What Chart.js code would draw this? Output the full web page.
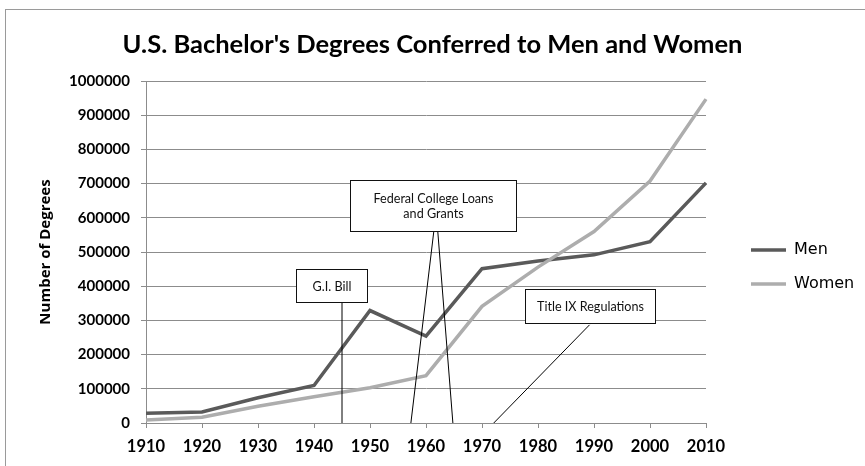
<!DOCTYPE html>
<html><head><meta charset="utf-8">
<script src="https://cdn.jsdelivr.net/npm/chart.js@4"></script>
<style>html,body{margin:0;padding:0;background:#fff;overflow:hidden}canvas{display:block}</style>
</head><body>
<canvas id="c" width="865" height="466"></canvas>
<script>
// ---- data ----
const years = ['1910','1920','1930','1940','1950','1960','1970','1980','1990','2000','2010'];
const menDegrees   = [28762, 31980, 73615, 109546, 328841, 254063, 451097, 473611, 491696, 530367, 702000];
const womenDegrees = [8437, 16642, 48869, 76954, 103217, 138377, 341276, 455806, 559648, 707508, 947000];
const yTickValues  = [0,100000,200000,300000,400000,500000,600000,700000,800000,900000,1000000];
const seriesNames  = ['Men','Women'];
const calloutTexts = [['G.I. Bill'], ['Federal College Loans','and Grants'], ['Title IX Regulations']];
// callout anchors in data units (year, value)
const calloutBoxes = [
  {x1:1936.7, x2:1949.5, yTop:450000, yBottom:354000},
  {x1:1946.5, x2:1976.0, yTop:710000, yBottom:561000},
  {x1:1977.6, x2:2000.9, yTop:392000, yBottom:292000}
];
const calloutPointers = [
  [{from:[1945.0,354000], to:[1945.0,0]}],
  [{from:[1961.4,561000], to:[1957.3,0]}, {from:[1962.1,561000], to:[1964.8,0]}],
  [{from:[1989.2,287000], to:[1972.1,0]}]
];

const yearToIndex = y => (y - Number(years[0])) / (Number(years[1]) - Number(years[0]));

const frameAndCallouts = {
  id: 'frameAndCallouts',
  beforeDraw(chart) {
    const ctx = chart.ctx;
    ctx.save();
    ctx.fillStyle = '#fff';
    ctx.fillRect(0, 0, chart.width, chart.height);
    ctx.strokeStyle = '#9a9a9a';
    ctx.lineWidth = 1;
    ctx.strokeRect(5.5, 9.5, chart.width + 20, chart.height + 20);
    ctx.restore();
  },
  beforeLayout(chart) {
    const lg = chart.legend;
    if (lg && !lg._fixedFit) {
      const orig = lg.fit;
      lg.fit = function() { orig.call(this); this.width = 159; };
      lg._fixedFit = true;
    }
  },
  afterLayout(chart) {
    const lg = chart.legend;
    lg.left = 733; lg.right = 865; lg.top = 224; lg.bottom = 330;
    lg.width = lg.right - lg.left; lg.height = lg.bottom - lg.top;
  },
  afterDatasetsDraw(chart) {
    const ctx = chart.ctx, xs = chart.scales.x, ys = chart.scales.y;
    const px = yr => xs.getPixelForValue(yearToIndex(yr));
    const py = v => ys.getPixelForValue(v);
    ctx.save();
    ctx.strokeStyle = '#000';
    ctx.lineWidth = 1;
    calloutPointers.forEach(list => list.forEach(p => {
      ctx.beginPath();
      ctx.moveTo(px(p.from[0]), py(p.from[1]));
      ctx.lineTo(px(p.to[0]), py(p.to[1]));
      ctx.stroke();
    }));
    calloutBoxes.forEach((b, i) => {
      const l = Math.round(px(b.x1)) + 0.5, r = Math.round(px(b.x2)) + 0.5;
      const t = Math.round(py(b.yTop)) + 0.5, btm = Math.round(py(b.yBottom)) + 0.5;
      ctx.fillStyle = '#fff';
      ctx.fillRect(l, t, r - l, btm - t);
      ctx.strokeStyle = '#111';
      ctx.strokeRect(l, t, r - l, btm - t);
      const lines = calloutTexts[i];
      ctx.fillStyle = '#111';
      ctx.font = '12.6px Lato';
      ctx.textAlign = 'center';
      ctx.textBaseline = 'middle';
      const lh = 15.5;
      const cy = (t + btm) / 2 + 0.5 - (lines.length - 1) * lh / 2;
      lines.forEach((s, k) => ctx.fillText(s, (l + r) / 2, cy + k * lh));
    });
    ctx.restore();
  }
};

new Chart(document.getElementById('c'), {
  type: 'line',
  data: {
    labels: years,
    datasets: [
      {label: seriesNames[0], data: menDegrees, borderColor: '#5a5a5a', backgroundColor: '#5a5a5a', borderWidth: 3.5, pointRadius: 0, tension: 0, order: 1},
      {label: seriesNames[1], data: womenDegrees, borderColor: '#adadad', backgroundColor: '#adadad', borderWidth: 3.5, pointRadius: 0, tension: 0, order: 0}
    ]
  },
  options: {
    responsive: false,
    animation: false,
    events: [],
    layout: {padding: 0},
    plugins: {
      title: {
        display: true,
        text: "U.S. Bachelor's Degrees Conferred to Men and Women",
        color: '#000',
        font: {family: 'Lato', size: 25.5, weight: 'bold', lineHeight: 1.2},
        padding: {top: 29, bottom: 21.4}
      },
      legend: {
        position: 'right',
        align: 'start',
        labels: {
          color: '#000',
          font: {family: 'DejaVu Sans', size: 16},
          usePointStyle: true,
          pointStyle: 'line',
          pointStyleWidth: 35,
          padding: 18,
          sort: (a, b) => a.datasetIndex - b.datasetIndex
        }
      },
      tooltip: {enabled: false}
    },
    scales: {
      x: {
        type: 'category',
        offset: false,
        grid: {drawOnChartArea: false, drawTicks: true, tickLength: 5, color: '#8c8c8c'},
        border: {display: true, color: '#8c8c8c'},
        ticks: {color: '#000', font: {family: 'Lato', size: 16.5, weight: 'bold'}, padding: 9, maxRotation: 0, autoSkip: false},
        afterFit: s => { s.height = 43; }
      },
      y: {
        min: 0, max: 1000000,
        grid: {color: '#8c8c8c', tickLength: 5, drawTicks: true},
        border: {display: true, color: '#8c8c8c'},
        afterBuildTicks: s => { s.ticks = yTickValues.map(v => ({value: v})); },
        ticks: {color: '#000', font: {family: 'Lato', size: 15, weight: 'bold'}, padding: 11, callback: v => String(v)},
        title: {display: true, text: 'Number of Degrees', color: '#000', font: {family: 'Open Sans', size: 15, weight: 'bold'}, padding: {top: 37, bottom: 0}},
        afterFit: s => { s.width = 146; }
      }
    }
  },
  plugins: [frameAndCallouts]
});
</script>
</body></html>
